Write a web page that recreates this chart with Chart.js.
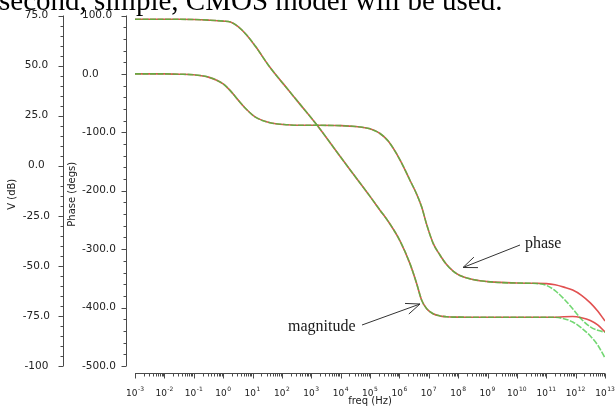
<!DOCTYPE html>
<html><head><meta charset="utf-8">
<script src="https://cdn.jsdelivr.net/npm/chart.js@4.4.1/dist/chart.umd.min.js"></script>
<style>
html,body{margin:0;padding:0;background:#fff;width:616px;height:417px;overflow:hidden;}
#wrap{position:relative;width:616px;height:417px;}
#c{position:absolute;left:0;top:0;}
#caption{position:absolute;left:-1px;top:-14.3px;font-family:'Liberation Serif','Times New Roman',serif;font-size:29px;line-height:29px;color:#000;white-space:nowrap;}
</style></head>
<body><div id="wrap"><canvas id="c" width="616" height="417"></canvas><div id="caption">second, simple, CMOS model will be used.</div></div>
<script>
// ---- data (frequency given as log10 exponent) ----
const freqExp = [-3, -2, -1.5, -1, -0.5, 0, 0.25, 0.5, 0.8, 1.1, 1.6, 2.2, 2.6, 3.2, 4, 4.5, 5, 5.34, 5.62, 6.02, 6.36, 6.59, 6.76, 6.93, 7.15, 7.38, 7.6, 7.84, 8.06, 8.5, 9.1, 10, 10.5];
const magDb = [73.1, 73.1, 73.1, 73.0, 72.7, 72.2, 71.7, 69.6, 65.3, 59.6, 49, 38.2, 31, 20.2, 4.3, -5.5, -15.3, -22.2, -27.8, -37.5, -48.9, -58.9, -67.2, -71.4, -73.9, -75.0, -75.4, -75.6, -75.6, -75.7, -75.7, -75.7, -75.7];
const phaseDeg = [0, 0, -0.5, -1.5, -5.5, -17, -29, -44, -61, -74, -83.5, -87, -88, -88, -88.5, -90, -94, -102, -115, -147, -182, -206, -228, -258, -290, -310, -326, -338, -345, -352, -356, -358, -358.4];
const tailExp = [11.0, 11.3, 11.6, 11.9, 12.2, 12.5, 12.75, 13.0];
const magRedTail = [-75.7, -75.7, -75.4, -75.3, -75.9, -77.3, -79.5, -83];
const magGreenTail = [-75.7, -75.7, -76.4, -78, -81, -85, -89.5, -96];
const phaseRedTail = [-359, -361, -365, -370, -379, -392, -406, -423];
const phaseGreenTail = [-362, -371, -385, -402, -420, -433, -439, -442];

const vTickValues = [-100, -75, -50, -25, 0, 25, 50, 75];
const vTickLabels = ['-100', '-75.0', '-50.0', '-25.0', '0.0', '25.0', '50.0', '75.0'];
const phaseTickValues = [-500, -400, -300, -200, -100, 0, 100];
const phaseTickLabels = ['-500.0', '-400.0', '-300.0', '-200.0', '-100.0', '0.0', '100.0'];
const xTickExp = [-3, -2, -1, 0, 1, 2, 3, 4, 5, 6, 7, 8, 9, 10, 11, 12, 13];

const toPts = (exps, vals) => exps.map((e, i) => ({ x: Math.pow(10, e), y: vals[i] }));
const allExp = freqExp.concat(tailExp);
const magRed = toPts(allExp, magDb.concat(magRedTail));
const magGreen = toPts(allExp, magDb.concat(magGreenTail));
const phaseRed = toPts(allExp, phaseDeg.concat(phaseRedTail));
const phaseGreen = toPts(allExp, phaseDeg.concat(phaseGreenTail));

const RED = 'rgb(225,80,80)';
const GREEN = 'rgba(60,200,60,0.72)';
const AX = '#4a4a4a';
const TXT = '#222';

const axesPlugin = {
  id: 'customAxes',
  afterDraw(chart) {
    const ctx = chart.ctx;
    const xs = chart.scales.x, ys = chart.scales.y, yp = chart.scales.y1;
    ctx.save();
    ctx.strokeStyle = AX;
    ctx.lineWidth = 1;
    ctx.beginPath();
    // V (dB) axis
    const vx = 63.5;
    const vTop = ys.getPixelForValue(vTickValues[vTickValues.length - 1]);
    const vBot = ys.getPixelForValue(vTickValues[0]);
    ctx.moveTo(vx, vTop); ctx.lineTo(vx, vBot);
    for (let v = vTickValues[0]; v <= vTickValues[vTickValues.length - 1]; v += 5) {
      const y = Math.round(ys.getPixelForValue(v)) + 0.5;
      const len = (v % 25 === 0) ? 5 : 3;
      ctx.moveTo(vx, y); ctx.lineTo(vx - len, y);
    }
    // Phase axis
    const px = 126.5;
    ctx.moveTo(px, yp.getPixelForValue(phaseTickValues[phaseTickValues.length - 1]));
    ctx.lineTo(px, yp.getPixelForValue(phaseTickValues[0]));
    for (let v = phaseTickValues[0]; v <= phaseTickValues[phaseTickValues.length - 1]; v += 20) {
      const y = Math.round(yp.getPixelForValue(v)) + 0.5;
      const len = (v % 100 === 0) ? 5 : 3;
      ctx.moveTo(px, y); ctx.lineTo(px - len, y);
    }
    // freq axis
    const xy = xs.top + 0.5;
    ctx.moveTo(xs.getPixelForValue(Math.pow(10, xTickExp[0])), xy);
    ctx.lineTo(xs.getPixelForValue(Math.pow(10, xTickExp[xTickExp.length - 1])), xy);
    for (let i = 0; i < xTickExp.length; i++) {
      const e = xTickExp[i];
      const maxK = (i === xTickExp.length - 1) ? 1 : 9;
      for (let k = 1; k <= maxK; k++) {
        const x = Math.round(xs.getPixelForValue(k * Math.pow(10, e))) + 0.5;
        const len = k === 1 ? 5 : 3;
        ctx.moveTo(x, xy); ctx.lineTo(x, xy + len);
      }
    }
    ctx.stroke();
    // freq tick labels 10^n
    ctx.fillStyle = TXT;
    ctx.textAlign = 'left';
    ctx.textBaseline = 'alphabetic';
    xTickExp.forEach(e => {
      const cx = xs.getPixelForValue(Math.pow(10, e));
      const base = '10', sup = String(e);
      ctx.font = '9px "DejaVu Sans"';
      const w1 = ctx.measureText(base).width;
      ctx.font = '6px "DejaVu Sans"';
      const w2 = ctx.measureText(sup).width;
      const start = cx - (w1 + 0.5 + w2) / 2;
      ctx.font = '9px "DejaVu Sans"';
      ctx.fillText(base, start, xs.top + 23);
      ctx.font = '6px "DejaVu Sans"';
      ctx.fillText(sup, start + w1 + 0.5, xs.top + 17.5);
    });
    ctx.restore();
  }
};

function arrow(ctx, x1, y1, x2, y2) {
  const ang = Math.atan2(y1 - y2, x1 - x2);
  const L = 15, a = 22 * Math.PI / 180;
  ctx.beginPath();
  ctx.moveTo(x1, y1); ctx.lineTo(x2, y2);
  ctx.moveTo(x2 + L * Math.cos(ang + a), y2 + L * Math.sin(ang + a));
  ctx.lineTo(x2, y2);
  ctx.lineTo(x2 + L * Math.cos(ang - a), y2 + L * Math.sin(ang - a));
  ctx.stroke();
}

const notesPlugin = {
  id: 'notes',
  afterDraw(chart) {
    const ctx = chart.ctx;
    ctx.save();
    ctx.strokeStyle = '#333';
    ctx.lineWidth = 1;
    arrow(ctx, 520, 245, 463, 267.5);
    arrow(ctx, 362, 325, 420, 304);
    ctx.fillStyle = '#1a1a1a';
    ctx.font = '16px "Liberation Serif"';
    ctx.textBaseline = 'alphabetic';
    ctx.textAlign = 'left';
    ctx.fillText('phase', 525, 247.5);
    ctx.fillText('magnitude', 288, 330.5);
    ctx.restore();
  }
};

const lineCommon = { pointRadius: 0, borderWidth: 1.6, fill: false, cubicInterpolationMode: 'monotone' };

const noPad = (s) => { s.paddingTop = 0; s.paddingBottom = 0; s.paddingLeft = 0; s.paddingRight = 0; };

new Chart(document.getElementById('c'), {
  type: 'line',
  data: {
    datasets: [
      // datasets with lower index are drawn on top: green first, red underneath
      Object.assign({ label: 'phase (green)', data: phaseGreen, yAxisID: 'y1', borderColor: GREEN, borderDash: [6, 1.5] }, lineCommon),
      Object.assign({ label: 'magnitude (green)', data: magGreen, yAxisID: 'y', borderColor: GREEN, borderDash: [6, 1.5] }, lineCommon),
      Object.assign({ label: 'phase (red)', data: phaseRed, yAxisID: 'y1', borderColor: RED }, lineCommon),
      Object.assign({ label: 'magnitude (red)', data: magRed, yAxisID: 'y', borderColor: RED }, lineCommon)
    ]
  },
  options: {
    responsive: false,
    animation: false,
    devicePixelRatio: 1,
    layout: { padding: { top: 15.5, right: 11, bottom: 0, left: 0 } },
    plugins: { legend: { display: false }, tooltip: { enabled: false } },
    scales: {
      x: {
        type: 'logarithmic',
        position: 'bottom',
        min: 1e-3, max: 1e13,
        grid: { display: false, drawTicks: false },
        border: { display: false },
        ticks: { display: false },
        title: { display: true, text: 'freq (Hz)', color: TXT, font: { family: 'DejaVu Sans', size: 10 }, padding: { top: 0, bottom: 10 } },
        afterFit: (s) => { s.height = 44; noPad(s); }
      },
      y: {
        type: 'linear',
        position: 'left',
        weight: 2,
        min: -103.5, max: 75,
        grid: { display: false, drawTicks: false },
        border: { display: false },
        afterBuildTicks: (s) => { s.ticks = vTickValues.map(v => ({ value: v })); },
        ticks: {
          color: TXT, font: { family: 'DejaVu Sans', size: 10.5 },
          crossAlign: 'center', padding: 32,
          callback: (v) => vTickLabels[vTickValues.indexOf(v)]
        },
        title: { display: true, text: 'V (dB)', color: TXT, font: { family: 'DejaVu Sans', size: 10 }, padding: { top: 6.5, bottom: 0 } },
        afterFit: (s) => { s.width = 82; noPad(s); }
      },
      y1: {
        type: 'linear',
        position: 'left',
        weight: 1,
        min: -512, max: 100,
        grid: { display: false, drawTicks: false },
        border: { display: false },
        afterBuildTicks: (s) => { s.ticks = phaseTickValues.map(v => ({ value: v })); },
        ticks: {
          color: TXT, font: { family: 'DejaVu Sans', size: 10.5 },
          crossAlign: 'far', padding: 8,
          callback: (v) => phaseTickLabels[phaseTickValues.indexOf(v)]
        },
        title: { display: true, text: 'Phase (degs)', color: TXT, font: { family: 'DejaVu Sans', size: 10 }, padding: { top: -16, bottom: 0 } },
        afterFit: (s) => { s.width = 53; noPad(s); }
      }
    }
  },
  plugins: [axesPlugin, notesPlugin]
});
</script>
</body></html>
